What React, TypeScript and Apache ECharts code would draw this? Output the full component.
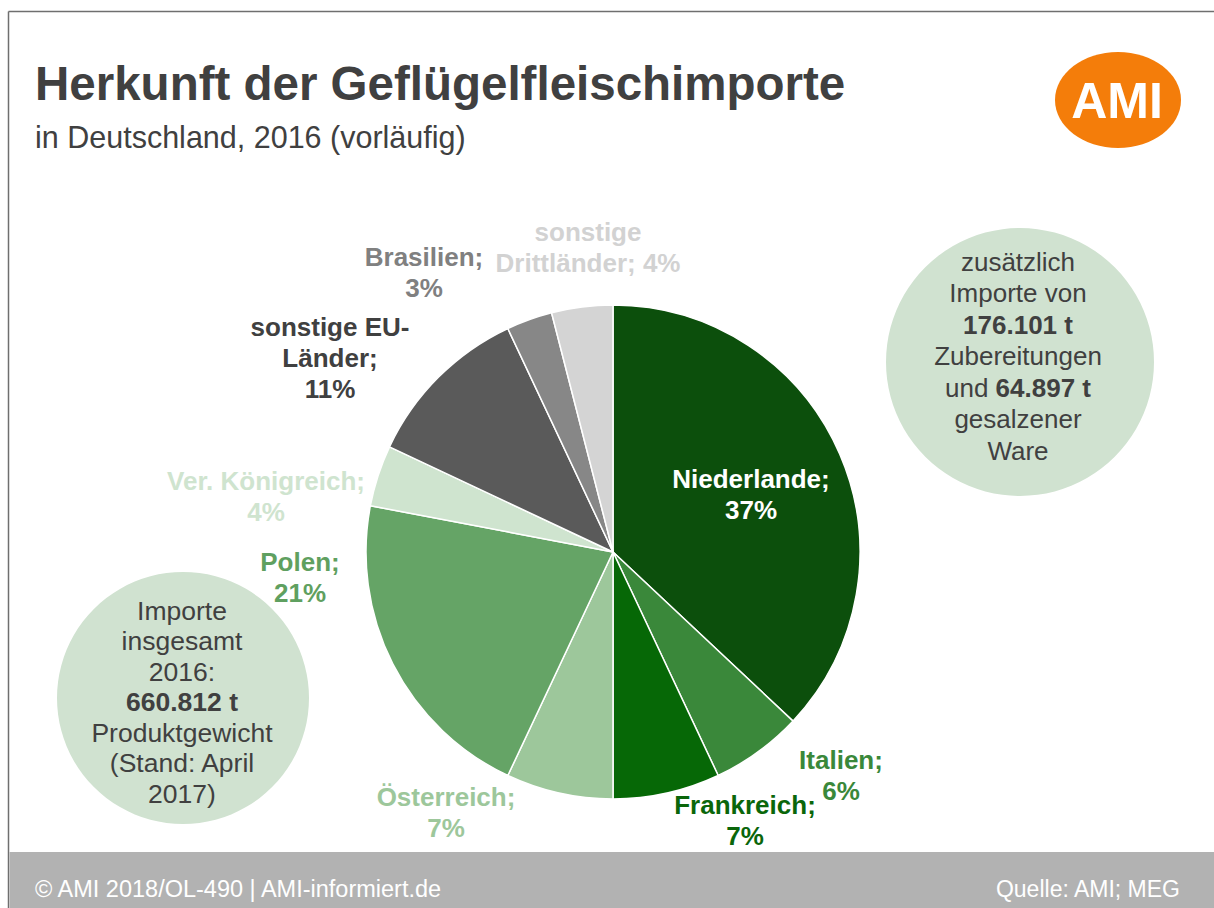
import React, { useEffect, useRef } from "react";
import * as echarts from "echarts";

// ---- data ----
const categories = [
  "Niederlande",
  "Italien",
  "Frankreich",
  "Österreich",
  "Polen",
  "Ver. Königreich",
  "sonstige EU-Länder",
  "Brasilien",
  "sonstige Drittländer",
];
const shares = [37, 6, 7, 7, 21, 4, 11, 3, 4];

// label text forms (line breaks as in the reference)
const labelNames = [
  "Niederlande",
  "Italien",
  "Frankreich",
  "Österreich",
  "Polen",
  "Ver. Königreich",
  "sonstige EU-\nLänder",
  "Brasilien",
  "sonstige\nDrittländer",
];
const labelSeparators = ["\n", "\n", "\n", "\n", "\n", "\n", "\n", "\n", " "];

const titleText = "Herkunft der Geflügelfleischimporte";
const subtitleText = "in Deutschland, 2016 (vorläufig)";
const footerLeft = "© AMI 2018/OL-490 | AMI-informiert.de";
const footerRight = "Quelle: AMI; MEG";
const rightBubbleLines = [
  "zusätzlich",
  "Importe von",
  "{b|176.101 t}",
  "Zubereitungen",
  "und {b|64.897 t}",
  "gesalzener",
  "Ware",
];
const leftBubbleLines = [
  "Importe",
  "insgesamt",
  "2016:",
  "{b|660.812 t}",
  "Produktgewicht",
  "(Stand: April",
  "2017)",
];

// ---- styles ----
const sliceColors = [
  "#0c4f0c",
  "#3a883a",
  "#066806",
  "#9dc79b",
  "#65a466",
  "#cfe4cf",
  "#5a5a5a",
  "#878787",
  "#d4d4d4",
];
const labelColors = [
  "#ffffff",
  "#3a883a",
  "#0a660a",
  "#9dc79b",
  "#5fa060",
  "#cfe4cf",
  "#404040",
  "#808080",
  "#d2d2d2",
];
const labelAnchors: [number, number][] = [
  [751, 494],
  [841, 775],
  [745, 820],
  [446, 812],
  [300, 577],
  [266, 496],
  [330, 358],
  [424, 272],
  [588, 247],
];

const FONT = "'Liberation Sans', Arial, Helvetica, sans-serif";
const TEXT_DARK = "#404040";

export default function App() {
  const ref = useRef<HTMLDivElement>(null);

  useEffect(() => {
    if (!ref.current) return;
    const chart = echarts.init(ref.current, undefined, { renderer: "svg" });

    const option: any = {
      animation: false,
      backgroundColor: "#ffffff",
      graphic: [
        // frame lines
        {
          type: "line",
          shape: { x1: 8.5, y1: 11.5, x2: 1214, y2: 11.5 },
          style: { stroke: "#6f6f6f", lineWidth: 1.5 },
        },
        {
          type: "line",
          shape: { x1: 8.5, y1: 11.5, x2: 8.5, y2: 908 },
          style: { stroke: "#6f6f6f", lineWidth: 1.5 },
        },
        // footer
        {
          type: "rect",
          shape: { x: 9.5, y: 852, width: 1205, height: 56 },
          style: { fill: "#b2b2b2" },
        },
        {
          type: "text",
          x: 35,
          y: 889,
          style: {
            text: footerLeft,
            fill: "#ffffff",
            font: `23.5px ${FONT}`,
            textAlign: "left",
            textVerticalAlign: "middle",
          },
        },
        {
          type: "text",
          x: 1180,
          y: 889,
          style: {
            text: footerRight,
            fill: "#ffffff",
            font: `23px ${FONT}`,
            textAlign: "right",
            textVerticalAlign: "middle",
          },
        },
        // title
        {
          type: "text",
          x: 35,
          y: 83,
          style: {
            text: titleText,
            fill: TEXT_DARK,
            font: `bold 47.5px ${FONT}`,
            textAlign: "left",
            textVerticalAlign: "middle",
          },
        },
        {
          type: "text",
          x: 35,
          y: 137,
          style: {
            text: subtitleText,
            fill: TEXT_DARK,
            font: `30.5px ${FONT}`,
            textAlign: "left",
            textVerticalAlign: "middle",
          },
        },
        // logo
        {
          type: "ellipse",
          shape: { cx: 1118, cy: 100, rx: 63, ry: 48 },
          style: { fill: "#f47d0a" },
        },
        {
          type: "text",
          x: 1117,
          y: 101,
          style: {
            text: "AMI",
            fill: "#ffffff",
            font: `bold 50px ${FONT}`,
            textAlign: "center",
            textVerticalAlign: "middle",
          },
        },
        // right bubble
        {
          type: "circle",
          shape: { cx: 1020, cy: 362, r: 134 },
          style: { fill: "#d0e2d0" },
        },
        {
          type: "text",
          x: 1018,
          y: 356,
          style: {
            text: rightBubbleLines.join("\n"),
            fill: TEXT_DARK,
            font: `26px ${FONT}`,
            lineHeight: 31.5,
            textAlign: "center",
            textVerticalAlign: "middle",
            rich: {
              b: { font: `bold 26px ${FONT}`, fill: TEXT_DARK, lineHeight: 31.5 },
            },
          },
        },
        // left bubble
        {
          type: "circle",
          shape: { cx: 183, cy: 698, r: 126 },
          style: { fill: "#d0e2d0" },
        },
        {
          type: "text",
          x: 182,
          y: 702,
          style: {
            text: leftBubbleLines.join("\n"),
            fill: TEXT_DARK,
            font: `26.5px ${FONT}`,
            lineHeight: 30.5,
            textAlign: "center",
            textVerticalAlign: "middle",
            rich: {
              b: { font: `bold 26.5px ${FONT}`, fill: TEXT_DARK, lineHeight: 30.5 },
            },
          },
        },
      ],
      series: [
        {
          type: "pie",
          silent: true,
          center: [613, 552],
          radius: 247,
          startAngle: 90,
          clockwise: true,
          avoidLabelOverlap: false,
          itemStyle: { borderColor: "#ffffff", borderWidth: 1.5 },
          labelLine: { show: false },
          label: {
            show: true,
            position: "inside",
            fontFamily: FONT,
            fontWeight: "bold",
            fontSize: 26,
            lineHeight: 31,
            align: "center",
            formatter: (p: any) =>
              `${labelNames[p.dataIndex]};${labelSeparators[p.dataIndex]}${p.value}%`,
          },
          labelLayout: (p: any) => ({
            x: labelAnchors[p.dataIndex][0],
            y: labelAnchors[p.dataIndex][1],
            align: "center",
            verticalAlign: "middle",
          }),
          data: categories.map((name, i) => ({
            name,
            value: shares[i],
            itemStyle: { color: sliceColors[i] },
            label: { color: labelColors[i] },
          })),
        },
      ],
    };

    chart.setOption(option);
    return () => chart.dispose();
  }, []);

  return (
    <div
      ref={ref}
      style={{ position: "fixed", left: 0, top: 0, width: 1214, height: 908 }}
    />
  );
}
